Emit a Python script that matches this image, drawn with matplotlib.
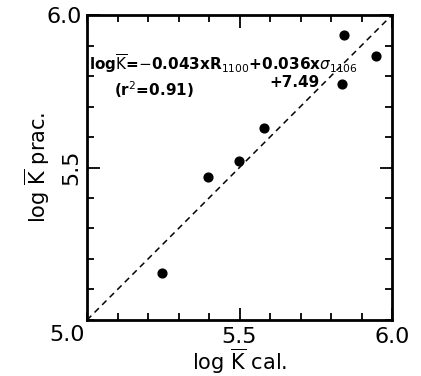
import numpy as np
import matplotlib
matplotlib.use("Agg")
import matplotlib.pyplot as plt
from matplotlib.ticker import MultipleLocator

# Data
k_cal = [5.245, 5.398, 5.499, 5.581, 5.843, 5.835, 5.946]
k_prac = [5.153, 5.470, 5.521, 5.628, 5.934, 5.773, 5.866]
ref_line = [5.0, 6.0]
tick_vals = [5.5, 6.0]
tick_labels = ["5.5", "6.0"]

plt.rcParams["font.family"] = ["DejaVu Sans"]

fig = plt.figure(figsize=(4.21, 3.76), dpi=100)
ax = fig.add_axes([87 / 421, 1 - 320 / 376, 305 / 421, 305 / 376])

ax.plot(ref_line, ref_line, ls=(0, (4, 3)), color="black", lw=1.1)
ax.scatter(k_cal, k_prac, s=40, color="black", zorder=3)

ax.set_xlim(5.0, 6.0)
ax.set_ylim(5.0, 6.0)

for s in ax.spines.values():
    s.set_linewidth(2)

ax.xaxis.set_minor_locator(MultipleLocator(0.1))
ax.yaxis.set_minor_locator(MultipleLocator(0.1))
ax.tick_params(which="both", direction="in", top=True, right=True, width=1.3)
ax.tick_params(which="major", length=9)
ax.tick_params(which="minor", length=5)

ax.set_xticks(tick_vals)
ax.set_xticklabels(tick_labels, fontsize=16)
ax.set_yticks(tick_vals)
ax.set_yticklabels(tick_labels, fontsize=16)
ax.get_yticklabels()[0].set_rotation(90)
ax.get_yticklabels()[0].set_va("center")
ax.tick_params(axis="x", pad=5)
ax.tick_params(axis="y", pad=4)

# shared corner label
ax.text(-0.065, -0.05, "5.0", transform=ax.transAxes, fontsize=16,
        ha="center", va="center")

ax.set_xlabel(r"log $\overline{\rm K}$ cal.", fontsize=15, labelpad=0)
ax.set_ylabel(r"log $\overline{\rm K}$ prac.", fontsize=15, labelpad=-4)

ax.text(0.005, 0.84,
        r"log$\overline{\rm K}$=$-$0.043xR$_{1100}$+0.036x$\sigma_{1106}$",
        transform=ax.transAxes, fontsize=11, fontweight="bold",
        ha="left", va="center")
ax.text(0.22, 0.755, r"(r$^2$=0.91)", transform=ax.transAxes,
        fontsize=11, fontweight="bold", ha="center", va="center")
ax.text(0.68, 0.78, "+7.49", transform=ax.transAxes,
        fontsize=11, fontweight="bold", ha="center", va="center")

fig.savefig("out.png", dpi=100)
